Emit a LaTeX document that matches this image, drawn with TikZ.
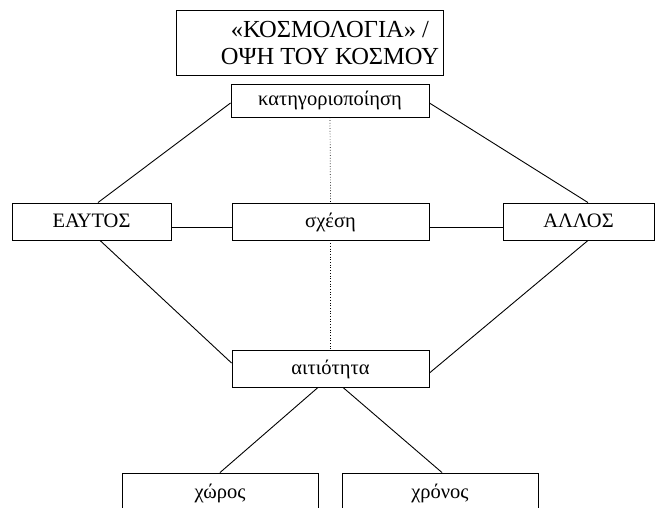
\documentclass[tikz,border=0pt]{standalone}
\usepackage{fontspec}
\setmainfont{Liberation Serif}
\usetikzlibrary{calc}
\begin{document}
\begin{tikzpicture}[x=1pt,y=-1pt,
  box/.style={draw, line width=0.9pt, inner sep=0pt, text height=15pt, text depth=4pt, font=\fontsize{20.5}{22}\selectfont},
  link/.style={line width=0.9pt},
  dots/.style={line width=0.7pt, dotted}]
\useasboundingbox (0,0) rectangle (656,508);
\node[box, minimum width=267pt, minimum height=65pt] (top) at (309.5,42.5) {};
\node[align=center, inner sep=0pt, font=\fontsize{24.5}{27}\selectfont] (toptext) at (330,43) {«ΚΟΣΜΟΛΟΓΙΑ» /\\ΟΨΗ ΤΟΥ ΚΟΣΜΟΥ};
\node[box, minimum width=198pt, minimum height=33pt] (kat) at (330,100.5) {κατηγοριοποίηση};
\node[box, minimum width=159pt, minimum height=37pt] (eay) at (91.5,221.5) {ΕΑΥΤΟΣ};
\node[box, minimum width=197pt, minimum height=37pt] (sx) at (330.5,221.5) {σχέση};
\node[box, minimum width=151pt, minimum height=37pt] (all) at (578.5,221.5) {ΑΛΛΟΣ};
\node[box, minimum width=197pt, minimum height=37pt] (ait) at (330.5,368.5) {αιτιότητα};
\node[box, minimum width=196pt, minimum height=40pt] (xw) at (220,493) {χώρος};
\node[box, minimum width=196pt, minimum height=40pt] (xr) at (440,493) {χρόνος};
\draw[link] ($(kat.west)+(0,2.5)$) -- ($(eay.north)+(6.5,0)$);
\draw[link] ($(kat.east)+(0,2.5)$) -- ($(all.north)+(9.5,0)$);
\draw[link] ($(eay.south)+(8.5,0)$) -- ($(ait.west)+(0,-5.5)$);
\draw[link] ($(all.south)+(9.5,0)$) -- ($(ait.east)+(0,4.5)$);
\draw[link] ($(eay.east)+(0,5.5)$) -- ($(sx.west)+(0,5.5)$);
\draw[link] ($(sx.east)+(0,5.5)$) -- ($(all.west)+(0,5.5)$);
\draw[dots] (kat.south) -- (sx.north);
\draw[dots] (sx.south) -- (ait.north);
\draw[link] ($(ait.south)+(-12.5,0)$) -- (xw.north);
\draw[link] ($(ait.south)+(12.5,0)$) -- ($(xr.north)+(2,0)$);
\end{tikzpicture}
\end{document}
